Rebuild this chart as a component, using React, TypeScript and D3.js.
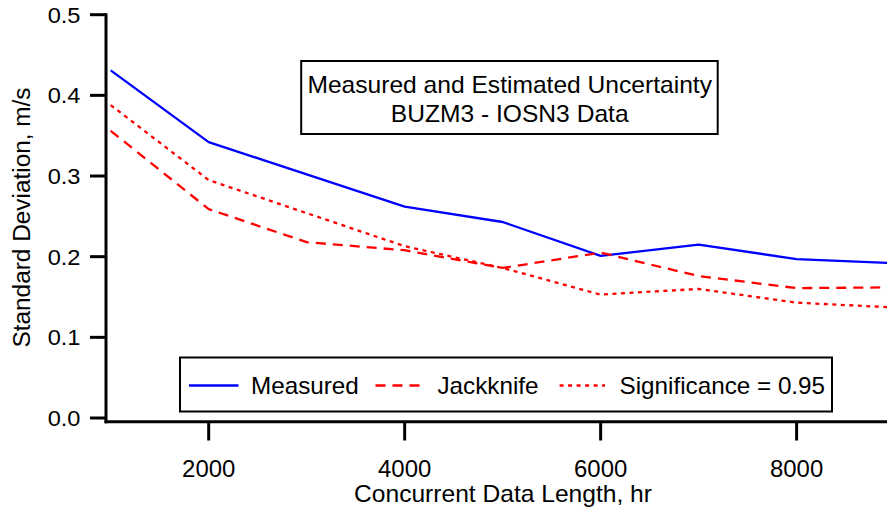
import React from "react";
import * as d3 from "d3";

const hours = [1000, 2000, 3000, 4000, 5000, 6000, 7000, 8000, 9000];
const measured = [0.431, 0.342, 0.302, 0.262, 0.243, 0.201, 0.215, 0.197, 0.192];
const jackknife = [0.356, 0.259, 0.218, 0.208, 0.186, 0.205, 0.176, 0.161, 0.162];
const significance = [0.388, 0.295, 0.254, 0.213, 0.186, 0.153, 0.16, 0.143, 0.137];
const yTicks = [0, 0.1, 0.2, 0.3, 0.4, 0.5];
const xTicks = [2000, 4000, 6000, 8000];
const titleLines = ["Measured and Estimated Uncertainty", "BUZM3 - IOSN3 Data"];
const legendLabels = ["Measured", "Jackknife", "Significance = 0.95"];

const W = 887;
const H = 508;
const FONT = "'Liberation Sans', Arial, Helvetica, sans-serif";

function T(props: {
  x: number;
  y: number;
  size: number;
  sx: number;
  anchor?: string;
  rotate?: number;
  dy?: string;
  children: React.ReactNode;
}) {
  const { x, y, size, sx, anchor = "start", rotate = 0, dy, children } = props;
  return (
    <text
      transform={`translate(${x},${y}) rotate(${rotate}) scale(${sx},1)`}
      textAnchor={anchor}
      fontSize={size}
      dy={dy}
      fill="#000"
    >
      {children}
    </text>
  );
}

export default function App() {
  const x = d3.scaleLinear().domain([1000, 9000]).range([110.7, 894.6]);
  const y = d3.scaleLinear().domain([0, 0.5]).range([418, 14.7]);
  const line = d3
    .line<number>()
    .x((_, i) => x(hours[i]))
    .y((d) => y(d));

  const axisX = 106;
  const axisY = 421.7;

  const series = [
    { values: measured, color: "#0000ff", dash: undefined as string | undefined },
    { values: jackknife, color: "#ff0000", dash: "10,7" },
    { values: significance, color: "#ff0000", dash: "4,4.5" },
  ];

  const legendItems = [
    { x1: 189, x2: 238.5, tx: 251, ...series[0], label: legendLabels[0] },
    { x1: 375.5, x2: 425, tx: 437.5, ...series[1], label: legendLabels[1] },
    { x1: 559.6, x2: 605, tx: 619.5, ...series[2], label: legendLabels[2] },
  ];

  return (
    <svg
      width={W}
      height={H}
      style={{ position: "absolute", left: 0, top: 0, background: "#fff" }}
      fontFamily={FONT}
    >
      <rect x={0} y={0} width={W} height={H} fill="#fff" />
      <defs>
        <clipPath id="plot">
          <rect x={axisX} y={0} width={W - axisX} height={axisY} />
        </clipPath>
      </defs>
      <g clipPath="url(#plot)">
        {series.map((s, i) => (
          <path
            key={i}
            d={line(s.values) || ""}
            fill="none"
            stroke={s.color}
            strokeWidth={2.3}
            strokeDasharray={s.dash}
            strokeLinejoin="round"
          />
        ))}
      </g>

      {/* axes */}
      <line x1={axisX} x2={axisX} y1={y(0.5) - 1.5} y2={axisY + 1.5} stroke="#000" strokeWidth={3} />
      <line x1={axisX - 1.5} x2={W} y1={axisY} y2={axisY} stroke="#000" strokeWidth={3} />
      {yTicks.map((t) => (
        <g key={t}>
          <line x1={90} x2={axisX} y1={y(t)} y2={y(t)} stroke="#000" strokeWidth={3} />
          <T x={80.5} y={y(t)} dy="0.36em" anchor="end" size={22.5} sx={1.05}>
            {d3.format(".1f")(t)}
          </T>
        </g>
      ))}
      {xTicks.map((t) => (
        <g key={t}>
          <line x1={x(t)} x2={x(t)} y1={axisY} y2={440.5} stroke="#000" strokeWidth={3} />
          <T x={x(t)} y={476.5} anchor="middle" size={23} sx={1.04}>
            {t}
          </T>
        </g>
      ))}
      <T x={503} y={502} anchor="middle" size={23} sx={1.07}>
        Concurrent Data Length, hr
      </T>
      <T x={30} y={217.5} rotate={-90} anchor="middle" size={23} sx={1.06}>
        Standard Deviation, m/s
      </T>

      {/* title box */}
      <rect x={301.2} y={61} width={416.5} height={73} fill="#fff" stroke="#000" strokeWidth={2} />
      {titleLines.map((t, i) => (
        <T key={i} x={509.7} y={92.5 + i * 29} anchor="middle" size={23} sx={1.07}>
          {t}
        </T>
      ))}

      {/* legend */}
      <rect x={180} y={357.5} width={652} height={54} fill="#fff" stroke="#000" strokeWidth={2} />
      {legendItems.map((it, i) => (
        <g key={i}>
          <line
            x1={it.x1}
            x2={it.x2}
            y1={385.5}
            y2={385.5}
            stroke={it.color}
            strokeWidth={2.3}
            strokeDasharray={it.dash}
          />
          <T x={it.tx} y={393.5} size={23} sx={1.055}>
            {it.label}
          </T>
        </g>
      ))}
    </svg>
  );
}
